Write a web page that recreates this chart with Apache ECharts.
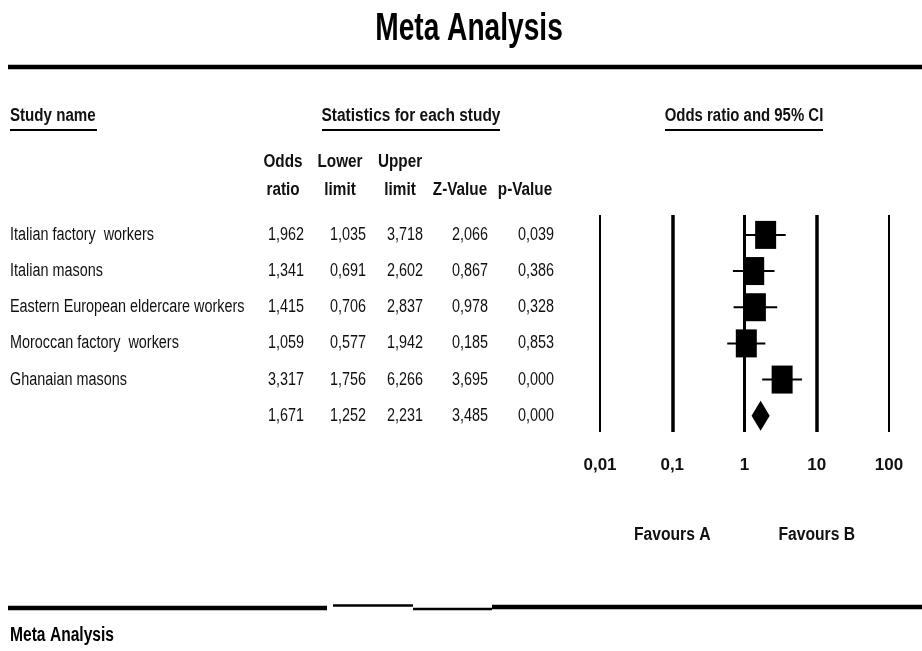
<!DOCTYPE html>
<html>
<head>
<meta charset="utf-8">
<script src="https://cdn.jsdelivr.net/npm/echarts@6/dist/echarts.min.js"></script>
<style>
html,body{margin:0;padding:0;background:#fff;}
#chart{width:922px;height:651px;}
</style>
</head>
<body>
<div id="chart"></div>
<script>
// ---- data ----
const studyNames = ['Italian factory  workers', 'Italian masons', 'Eastern European eldercare workers', 'Moroccan factory  workers', 'Ghanaian masons'];
const oddsRatio  = [1.962, 1.341, 1.415, 1.059, 3.317];
const lowerLimit = [1.035, 0.691, 0.706, 0.577, 1.756];
const upperLimit = [3.718, 2.602, 2.837, 1.942, 6.266];
const zValue     = [2.066, 0.867, 0.978, 0.185, 3.695];
const pValue     = [0.039, 0.386, 0.328, 0.853, 0.000];
const summaryRow = [1.671, 1.252, 2.231, 3.485, 0.000]; // OR, lower, upper, Z, p
const tickValues = [0.01, 0.1, 1, 10, 100];
const tickLabels = ['0,01', '0,1', '1', '10', '100'];
const refLineWidths = [2, 3.5, 3, 3.5, 2];

// ---- chart ----
const FONT = '"Liberation Sans", Arial, sans-serif';
const chart = echarts.init(document.getElementById('chart'), null, {renderer: 'canvas'});

const studyData = oddsRatio.map((v, i) => [v, lowerLimit[i], upperLimit[i], i + 1]);
const summaryData = [[summaryRow[0], summaryRow[1], summaryRow[2], studyNames.length + 1]];

chart.setOption({
  animation: false,
  backgroundColor: '#fff',
  grid: {left: 600, right: 33, top: 215, height: 217, containLabel: false},
  xAxis: {
    type: 'log', logBase: 10, min: 0.01, max: 100,
    axisLine: {show: false}, axisTick: {show: false}, splitLine: {show: false},
    axisLabel: {
      margin: 25, fontSize: 17, fontWeight: 'bold', fontFamily: FONT, color: '#111',
      formatter: function (val) {
        const idx = tickValues.findIndex(t => Math.abs(Math.log10(t) - Math.log10(val)) < 1e-6);
        return idx >= 0 ? tickLabels[idx] : '';
      }
    }
  },
  yAxis: {type: 'value', inverse: true, min: 0.45, max: 6.45, show: false},
  series: [
    {
      type: 'custom',
      data: studyData,
      renderItem: function (params, api) {
        const row = api.value(3);
        const c = api.coord([api.value(0), row]);
        const lo = api.coord([api.value(1), row]);
        const hi = api.coord([api.value(2), row]);
        return {
          type: 'group',
          children: [
            {type: 'line', shape: {x1: lo[0], y1: c[1], x2: hi[0], y2: c[1]}, style: {stroke: '#000', lineWidth: 2}},
            {type: 'rect', shape: {x: c[0] - 10.5, y: c[1] - 14, width: 21, height: 28}, style: {fill: '#000'}}
          ]
        };
      },
      markLine: {
        silent: true, symbol: 'none', label: {show: false},
        data: tickValues.map((t, i) => ({xAxis: t, lineStyle: {color: '#000', width: refLineWidths[i], type: 'solid'}}))
      },
      z: 3
    },
    {
      type: 'custom',
      data: summaryData,
      renderItem: function (params, api) {
        const row = api.value(3);
        const c = api.coord([api.value(0), row]);
        const lo = api.coord([api.value(1), row]);
        const hi = api.coord([api.value(2), row]);
        return {
          type: 'polygon',
          shape: {points: [[lo[0], c[1]], [c[0], c[1] - 15], [hi[0], c[1]], [c[0], c[1] + 15]]},
          style: {fill: '#000'}
        };
      },
      z: 3
    }
  ]
});

// ---- table & decorations ----
function txt(text, x, y, opt) {
  return {
    type: 'text', x: x, y: y, scaleX: opt.sx || 1, z: 10, silent: true,
    style: {
      text: text, x: 0, y: 0,
      font: (opt.bold ? 'bold ' : '') + (opt.size || 18) + 'px ' + FONT,
      fill: opt.color || '#111', align: opt.align || 'left', verticalAlign: 'middle'
    }
  };
}
function hline(x1, x2, y, w) {
  return {type: 'line', silent: true, z: 10, shape: {x1: x1, y1: y, x2: x2, y2: y}, style: {stroke: '#000', lineWidth: w}};
}
const fmt = v => v.toFixed(3).replace('.', ',');
const rowY = r => chart.convertToPixel({gridIndex: 0}, [1, r])[1];
const colX = v => chart.convertToPixel({gridIndex: 0}, [v, 1])[0];

const g = [];
// title
g.push(txt('Meta Analysis', 469, 30, {bold: true, size: 38, sx: 0.74, align: 'center', color: '#000'}));
g.push(hline(8, 922, 67, 4.5));
// section headers
g.push(txt('Study name', 10, 116, {bold: true, sx: 0.84}));
g.push(hline(10, 97, 130, 2));
g.push(txt('Statistics for each study', 411, 116, {bold: true, sx: 0.86, align: 'center'}));
g.push(hline(322, 500, 130, 2));
g.push(txt('Odds ratio and 95% CI', 744, 116, {bold: true, sx: 0.83, align: 'center'}));
g.push(hline(665, 823, 130, 2));
// column headers
const colRight = [304, 366, 423, 488, 554];
const colCenter = [283, 340, 400, 460, 525];
const head1 = ['Odds', 'Lower', 'Upper', '', ''];
const head2 = ['ratio', 'limit', 'limit', 'Z-Value', 'p-Value'];
head1.forEach((h, i) => { if (h) g.push(txt(h, colCenter[i], 162, {bold: true, sx: 0.85, align: 'center'})); });
head2.forEach((h, i) => g.push(txt(h, colCenter[i], 190, {bold: true, sx: 0.85, align: 'center'})));
// rows
const cols = [oddsRatio, lowerLimit, upperLimit, zValue, pValue];
studyNames.forEach((name, i) => {
  const y = rowY(i + 1);
  g.push(txt(name, 10, y, {sx: 0.8}));
  cols.forEach((col, c) => g.push(txt(fmt(col[i]), colRight[c], y, {sx: 0.8, align: 'right'})));
});
const ySum = rowY(studyNames.length + 1);
summaryRow.forEach((v, c) => g.push(txt(fmt(v), colRight[c], ySum, {sx: 0.8, align: 'right'})));
// favours
g.push(txt('Favours A', colX(0.1), 535, {bold: true, sx: 0.87, align: 'center'}));
g.push(txt('Favours B', colX(10), 535, {bold: true, sx: 0.87, align: 'center'}));
// bottom line
g.push(hline(8, 327, 608, 4.5));
g.push(hline(333, 413, 605.5, 2.5));
g.push(hline(413, 492, 609, 2.5));
g.push(hline(492, 922, 607, 4.5));
g.push(txt('Meta Analysis', 10, 635, {bold: true, size: 20, sx: 0.78, color: '#000'}));

chart.setOption({graphic: {elements: g}});
</script>
</body>
</html>
